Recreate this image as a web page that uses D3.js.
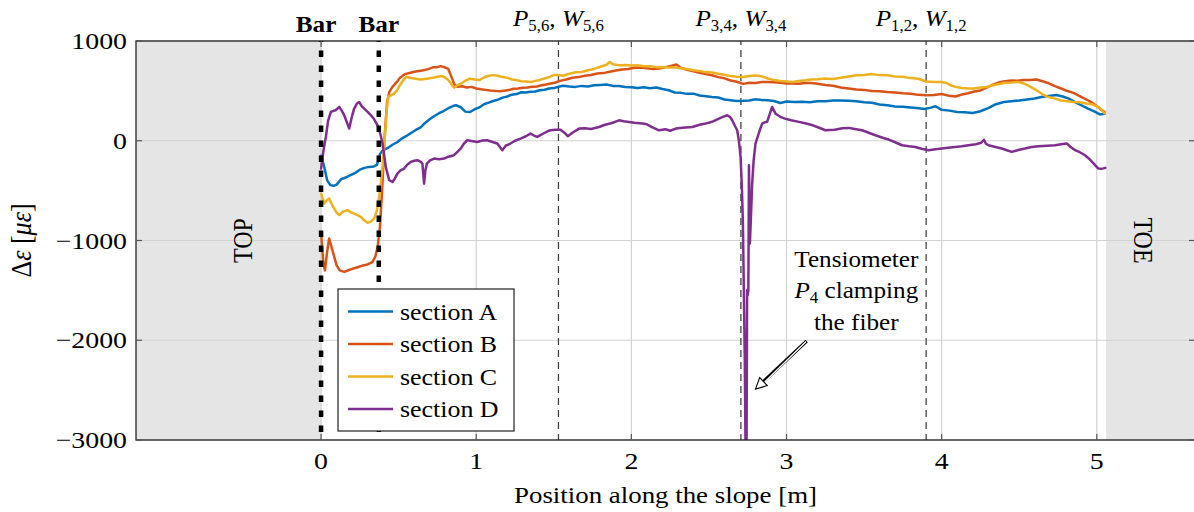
<!DOCTYPE html>
<html><head><meta charset="utf-8">
<script src="https://cdn.jsdelivr.net/npm/d3@7"></script>
<style>
body{margin:0;background:#fff;}
svg{display:block;font-family:"Liberation Serif","Times New Roman",serif;}
</style>
</head><body>
<svg id="chart" width="1194" height="512"></svg>
<script>
// ---------------- data ----------------
const xTicks = [0, 1, 2, 3, 4, 5];
const yTicks = [-3000, -2000, -1000, 0, 1000];
const xDomain = [-1.193, 5.633];
const yDomain = [-3000, 1000];
const topZone = [-1.193, 0];
const toeZone = [5.06, 5.633];
const barPositions = [0, 0.372];
const sensorPositions = [1.53, 2.706, 3.90];
const sensorSubs = ["5,6", "3,4", "1,2"];
const seriesNames = ["section A", "section B", "section C", "section D"];
const seriesColors = ["#0072BD", "#D95319", "#EDB120", "#7E2F8E"];

const sectionA = [[0,-150],[0.02,-260],[0.04,-400],[0.06,-445],[0.08,-452],[0.10,-440],[0.13,-385],[0.16,-368],[0.19,-345],[0.22,-322],[0.25,-290],[0.28,-272],[0.31,-262],[0.34,-258],[0.36,-242],[0.38,-130],[0.40,-95],[0.43,-72],[0.46,-40],[0.49,-15],[0.52,22],[0.55,48],[0.58,78],[0.61,108],[0.64,132],[0.67,178],[0.70,216],[0.73,248],[0.76,276],[0.79,298],[0.82,326],[0.85,348],[0.87,356],[0.90,336],[0.93,292],[0.96,288],[0.99,316],[1.02,334],[1.05,366],[1.08,382],[1.11,398],[1.14,412],[1.17,432],[1.20,444],[1.23,462],[1.26,468],[1.29,486],[1.32,484],[1.35,492],[1.38,494],[1.41,506],[1.44,512],[1.47,524],[1.50,528],[1.53,542],[1.56,552],[1.60,544],[1.64,540],[1.68,550],[1.72,543],[1.76,556],[1.80,560],[1.84,564],[1.88,550],[1.92,548],[1.96,538],[2.00,536],[2.04,528],[2.08,536],[2.12,526],[2.16,534],[2.20,518],[2.24,506],[2.28,484],[2.32,480],[2.36,470],[2.40,472],[2.44,454],[2.48,446],[2.52,438],[2.56,434],[2.60,414],[2.64,406],[2.68,398],[2.72,400],[2.76,404],[2.80,416],[2.84,408],[2.88,406],[2.92,398],[2.96,378],[3.00,394],[3.05,388],[3.10,390],[3.15,386],[3.20,396],[3.25,396],[3.30,404],[3.35,404],[3.40,402],[3.45,396],[3.50,386],[3.55,380],[3.60,364],[3.65,356],[3.70,344],[3.75,342],[3.80,334],[3.85,326],[3.89,318],[3.93,332],[3.96,346],[4.00,310],[4.05,302],[4.10,288],[4.15,286],[4.20,278],[4.25,296],[4.30,328],[4.35,366],[4.40,388],[4.45,396],[4.50,404],[4.55,414],[4.60,424],[4.65,442],[4.70,450],[4.74,458],[4.78,444],[4.82,422],[4.86,388],[4.90,356],[4.94,324],[4.98,296],[5.02,264],[5.05,270]];

const sectionB = [[0,-930],[0.015,-1230],[0.025,-1300],[0.04,-1100],[0.052,-980],[0.07,-1080],[0.085,-1164],[0.10,-1250],[0.12,-1300],[0.15,-1315],[0.18,-1296],[0.21,-1280],[0.24,-1266],[0.27,-1250],[0.30,-1240],[0.33,-1216],[0.35,-1160],[0.365,-1060],[0.38,-850],[0.395,-450],[0.41,50],[0.425,380],[0.44,490],[0.46,540],[0.49,592],[0.51,634],[0.54,666],[0.57,680],[0.60,692],[0.63,700],[0.66,706],[0.69,718],[0.72,736],[0.75,738],[0.77,748],[0.80,734],[0.82,720],[0.84,640],[0.86,560],[0.88,540],[0.91,546],[0.94,534],[0.97,540],[1.00,524],[1.03,516],[1.06,510],[1.09,504],[1.12,500],[1.15,496],[1.18,502],[1.21,508],[1.24,522],[1.27,524],[1.30,532],[1.33,534],[1.36,542],[1.39,544],[1.42,556],[1.45,564],[1.48,574],[1.51,584],[1.54,600],[1.58,614],[1.62,632],[1.66,638],[1.70,652],[1.74,660],[1.78,674],[1.82,678],[1.86,692],[1.90,704],[1.94,714],[1.98,720],[2.02,732],[2.06,734],[2.10,726],[2.14,718],[2.18,724],[2.22,738],[2.26,752],[2.29,764],[2.32,730],[2.36,712],[2.40,696],[2.44,682],[2.48,668],[2.52,656],[2.56,638],[2.60,626],[2.64,604],[2.68,592],[2.72,570],[2.76,582],[2.80,580],[2.84,588],[2.88,590],[2.92,586],[2.96,582],[3.00,574],[3.04,574],[3.08,572],[3.12,580],[3.16,578],[3.20,572],[3.25,558],[3.30,552],[3.35,534],[3.40,524],[3.45,514],[3.50,510],[3.55,498],[3.60,496],[3.65,488],[3.70,484],[3.75,476],[3.80,472],[3.85,460],[3.90,456],[3.95,458],[4.00,468],[4.05,450],[4.09,444],[4.13,464],[4.17,476],[4.21,494],[4.25,504],[4.29,532],[4.33,562],[4.37,586],[4.41,596],[4.45,604],[4.49,602],[4.53,610],[4.57,610],[4.61,614],[4.65,596],[4.69,576],[4.73,548],[4.77,524],[4.81,498],[4.85,480],[4.89,448],[4.93,416],[4.97,382],[5.01,336],[5.03,308],[5.05,290]];

const sectionC = [[0,-530],[0.02,-630],[0.035,-600],[0.052,-580],[0.07,-640],[0.085,-680],[0.10,-720],[0.117,-746],[0.14,-710],[0.17,-696],[0.19,-716],[0.213,-730],[0.235,-746],[0.256,-763],[0.28,-800],[0.30,-823],[0.32,-810],[0.342,-780],[0.36,-700],[0.374,-563],[0.385,-420],[0.396,-262],[0.41,20],[0.42,250],[0.432,439],[0.45,455],[0.47,472],[0.49,508],[0.51,562],[0.53,608],[0.55,642],[0.58,628],[0.61,622],[0.64,614],[0.67,620],[0.70,626],[0.73,634],[0.76,644],[0.78,648],[0.80,634],[0.82,608],[0.84,566],[0.857,533],[0.88,556],[0.90,572],[0.93,602],[0.96,622],[0.99,614],[1.02,608],[1.05,634],[1.08,652],[1.11,658],[1.14,652],[1.17,638],[1.20,632],[1.23,614],[1.26,608],[1.29,596],[1.32,594],[1.35,588],[1.38,600],[1.41,610],[1.44,624],[1.47,638],[1.50,658],[1.53,660],[1.56,652],[1.60,672],[1.64,686],[1.68,690],[1.72,706],[1.76,720],[1.80,742],[1.84,762],[1.86,790],[1.88,768],[1.92,758],[1.96,760],[2.00,754],[2.04,756],[2.08,746],[2.12,746],[2.16,738],[2.20,740],[2.24,734],[2.28,734],[2.32,726],[2.36,720],[2.40,706],[2.44,700],[2.48,688],[2.52,684],[2.56,672],[2.60,662],[2.64,648],[2.68,642],[2.72,640],[2.76,650],[2.80,654],[2.84,646],[2.88,624],[2.92,608],[2.96,598],[3.00,594],[3.04,588],[3.08,600],[3.12,606],[3.16,614],[3.20,616],[3.25,624],[3.30,618],[3.35,632],[3.40,644],[3.45,656],[3.50,660],[3.55,668],[3.60,658],[3.65,656],[3.70,644],[3.75,642],[3.80,628],[3.85,622],[3.90,594],[3.95,590],[4.00,588],[4.03,580],[4.06,554],[4.09,540],[4.13,528],[4.17,524],[4.21,524],[4.25,534],[4.29,538],[4.33,556],[4.37,568],[4.41,582],[4.45,584],[4.49,590],[4.53,574],[4.57,542],[4.61,508],[4.65,466],[4.69,438],[4.73,422],[4.77,404],[4.81,396],[4.85,388],[4.89,386],[4.93,374],[4.97,366],[5.01,338],[5.03,312],[5.05,275]];

const sectionD = [[0,-280],[0.015,-100],[0.031,40],[0.045,200],[0.063,290],[0.08,300],[0.095,306],[0.117,340],[0.13,310],[0.149,256],[0.165,190],[0.181,122],[0.20,250],[0.213,322],[0.23,370],[0.246,389],[0.26,350],[0.278,322],[0.30,290],[0.321,256],[0.34,220],[0.364,155],[0.38,80],[0.396,-28],[0.417,-262],[0.439,-396],[0.46,-413],[0.475,-380],[0.492,-329],[0.51,-300],[0.535,-279],[0.555,-240],[0.578,-212],[0.60,-200],[0.621,-195],[0.645,-215],[0.653,-229],[0.664,-430],[0.672,-300],[0.682,-229],[0.70,-200],[0.728,-179],[0.76,-186],[0.793,-179],[0.82,-160],[0.857,-145],[0.88,-110],[0.90,-78],[0.92,-30],[0.943,5],[0.97,-2],[1.007,-12],[1.04,2],[1.071,5],[1.10,-10],[1.136,-28],[1.168,-95],[1.19,-50],[1.221,-28],[1.25,0],[1.286,22],[1.32,45],[1.35,72],[1.37,55],[1.393,38],[1.43,70],[1.46,95],[1.479,105],[1.51,110],[1.543,111],[1.575,72],[1.59,45],[1.62,80],[1.663,122],[1.70,126],[1.74,118],[1.792,138],[1.83,160],[1.87,175],[1.921,205],[1.95,195],[1.985,189],[2.02,180],[2.071,172],[2.10,165],[2.13,140],[2.178,105],[2.22,115],[2.25,100],[2.286,122],[2.33,130],[2.393,138],[2.44,160],[2.479,172],[2.52,190],[2.564,222],[2.59,240],[2.618,256],[2.635,240],[2.650,205],[2.667,150],[2.682,105],[2.693,0],[2.704,-162],[2.713,-500],[2.719,-830],[2.725,-1500],[2.731,-2200],[2.737,-3300],[2.742,-3300],[2.746,-1500],[2.750,-1550],[2.754,-1500],[2.758,-245],[2.764,-1030],[2.770,-800],[2.778,-450],[2.788,-200],[2.800,-28],[2.822,80],[2.843,172],[2.860,185],[2.875,190],[2.890,260],[2.907,339],[2.93,270],[2.96,240],[2.99,222],[3.03,205],[3.08,189],[3.12,175],[3.17,155],[3.21,130],[3.25,105],[3.31,111],[3.36,125],[3.401,129],[3.44,118],[3.487,105],[3.53,80],[3.573,55],[3.62,30],[3.658,12],[3.70,-15],[3.744,-45],[3.79,-55],[3.830,-62],[3.87,-80],[3.916,-95],[3.96,-85],[4.001,-78],[4.04,-70],[4.087,-62],[4.13,-55],[4.173,-45],[4.22,-35],[4.255,-20],[4.273,10],[4.285,-30],[4.302,-45],[4.34,-60],[4.387,-78],[4.42,-95],[4.452,-112],[4.50,-90],[4.538,-78],[4.58,-62],[4.624,-55],[4.68,-50],[4.731,-45],[4.77,-35],[4.806,-28],[4.83,-60],[4.860,-95],[4.89,-115],[4.924,-145],[4.95,-180],[4.980,-229],[5.01,-279],[5.03,-282],[5.055,-272]];

const allSeries = [sectionA, sectionB, sectionC, sectionD];

// ---------------- layout ----------------
const M = {left:136, right:1195, top:41, bottom:440};
const svg = d3.select('#chart');
const x = d3.scaleLinear().domain(xDomain).range([M.left, M.right]);
const y = d3.scaleLinear().domain(yDomain).range([M.bottom, M.top]);
const SX = 1.12;
const FONT = 24;

function txt(parent, px, py, opts={}) {
  const t = parent.append('text')
    .attr('transform', `translate(${px},${py}) scale(${opts.sx||SX},1)` + (opts.rot ? ` rotate(${opts.rot})` : ''))
    .attr('text-anchor', opts.anchor || 'middle')
    .attr('font-size', opts.size || FONT)
    .attr('fill', '#000');
  if (opts.weight) t.attr('font-weight', opts.weight);
  if (opts.baseline) t.attr('dominant-baseline', opts.baseline);
  return t;
}

svg.append('defs').append('clipPath').attr('id','plotclip')
  .append('rect').attr('x',M.left).attr('y',M.top).attr('width',M.right-M.left).attr('height',M.bottom-M.top);

// gray zones
[topZone, toeZone].forEach(z => {
  svg.append('rect').attr('x', x(z[0])).attr('y', M.top)
    .attr('width', x(z[1]) - x(z[0])).attr('height', M.bottom - M.top)
    .attr('fill', '#e5e5e5');
});

// grid
const grid = svg.append('g');
xTicks.forEach(t => grid.append('line').attr('x1',x(t)).attr('x2',x(t)).attr('y1',M.top).attr('y2',M.bottom)
  .attr('stroke','#d2d2d2').attr('stroke-width',1.2));
yTicks.forEach(t => grid.append('line').attr('x1',M.left).attr('x2',M.right).attr('y1',y(t)).attr('y2',y(t))
  .attr('stroke','#d2d2d2').attr('stroke-width',1.2));

// sensor dashed lines
sensorPositions.forEach(p => svg.append('line').attr('x1',x(p)).attr('x2',x(p)).attr('y1',M.top).attr('y2',M.bottom)
  .attr('stroke','#444').attr('stroke-width',1.3).attr('stroke-dasharray','7,5').attr('stroke-dashoffset',-9));

// series
const line = d3.line().x(d => x(d[0])).y(d => y(d[1]));
const plotG = svg.append('g').attr('clip-path','url(#plotclip)');
allSeries.forEach((s, i) => {
  plotG.append('path').datum(s).attr('d', line).attr('fill','none')
    .attr('stroke', seriesColors[i]).attr('stroke-width', 2.5)
    .attr('stroke-linejoin','round').attr('stroke-linecap','round');
});

// bar dotted lines
barPositions.forEach(p => svg.append('line').attr('x1',x(p)).attr('x2',x(p)).attr('y1',M.top).attr('y2',M.bottom)
  .attr('stroke','#000').attr('stroke-width',4.5).attr('stroke-dasharray','6.5,8.5').attr('stroke-dashoffset',5.5));

// frame
svg.append('rect').attr('x',M.left).attr('y',M.top).attr('width',M.right-M.left).attr('height',M.bottom-M.top)
  .attr('fill','none').attr('stroke','#222').attr('stroke-width',1.3);

// ticks
const tk = svg.append('g').attr('stroke','#555').attr('stroke-width',1.2);
xTicks.forEach(t => {
  tk.append('line').attr('x1',x(t)).attr('x2',x(t)).attr('y1',M.bottom).attr('y2',M.bottom-6);
  tk.append('line').attr('x1',x(t)).attr('x2',x(t)).attr('y1',M.top).attr('y2',M.top+6);
});
yTicks.forEach(t => {
  tk.append('line').attr('x1',M.left).attr('x2',M.left+6).attr('y1',y(t)).attr('y2',y(t));
  tk.append('line').attr('x1',M.right).attr('x2',M.right-6).attr('y1',y(t)).attr('y2',y(t));
});

// tick labels
xTicks.forEach(t => txt(svg, x(t), 469, {sx:1.16}).text(d3.format('d')(t)));
yTicks.forEach(t => txt(svg, 127, y(t) + 8, {anchor:'end', sx:1.16}).text(t < 0 ? '\u2212' + Math.abs(t) : String(t)));

// axis titles
txt(svg, (M.left + M.right) / 2, 503).text('Position along the slope [m]');
const yl = txt(svg, 31, (M.top + M.bottom) / 2, {rot:-90, sx:1.1});
yl.attr('font-size', 26);
yl.append('tspan').text('\u0394');
yl.append('tspan').attr('font-style','italic').text('\u03b5');
yl.append('tspan').text(' [');
yl.append('tspan').attr('font-style','italic').text('\u03bc\u03b5');
yl.append('tspan').text(']');

// zone labels
txt(svg, x(-0.5), (M.top + M.bottom) / 2, {rot:-90, baseline:'central'}).text('TOP');
txt(svg, x(5.30), (M.top + M.bottom) / 2, {rot:90, baseline:'central'}).text('TOE');

// bar labels
barPositions.forEach(p => txt(svg, x(p) - (p === 0 ? 5 : 0), 32, {weight:'bold', sx:1.05}).text('Bar'));

// sensor labels
sensorPositions.forEach((p, i) => {
  const t = txt(svg, x(p) - (i === 2 ? 5 : 0), 26, {sx:1.05});
  t.append('tspan').attr('font-style','italic').text('P');
  t.append('tspan').attr('font-size',16).attr('dy',5).text(sensorSubs[i]);
  t.append('tspan').attr('dy',-5).text(', ');
  t.append('tspan').attr('font-style','italic').text('W');
  t.append('tspan').attr('font-size',16).attr('dy',5).text(sensorSubs[i]);
});

// annotation
const ax = 3.45;
txt(svg, x(ax), y(-1262), {sx:1.05}).text('Tensiometer');
const a2 = txt(svg, x(ax), y(-1578), {sx:1.05});
a2.append('tspan').attr('font-style','italic').text('P');
a2.append('tspan').attr('font-size',16).attr('dy',5).text('4');
a2.append('tspan').attr('dy',-5).text(' clamping');
txt(svg, x(ax), y(-1897), {sx:1.05}).text('the fiber');

// double arrow
const aStart = [3.13, -2007], aEnd = [2.80, -2490];
const x1 = x(aStart[0]), y1 = y(aStart[1]), x2 = x(aEnd[0]), y2 = y(aEnd[1]);
const ang = Math.atan2(y2 - y1, x2 - x1);
const headL = 11, headW = 5.5;
const bx = x2 - headL * Math.cos(ang), by = y2 - headL * Math.sin(ang);
svg.append('line').attr('x1',x1).attr('y1',y1).attr('x2',bx).attr('y2',by).attr('stroke','#000').attr('stroke-width',3.4);
svg.append('line').attr('x1',x1 + 0.8*Math.cos(ang)).attr('y1',y1 + 0.8*Math.sin(ang)).attr('x2',bx+1).attr('y2',by+1*Math.sin(ang)).attr('stroke','#fff').attr('stroke-width',1.3);
const nx = -Math.sin(ang), ny = Math.cos(ang);
svg.append('path').attr('d', `M${x2},${y2} L${bx + nx*headW},${by + ny*headW} L${bx - nx*headW},${by - ny*headW} Z`)
  .attr('fill','#fff').attr('stroke','#000').attr('stroke-width',1.1).attr('stroke-linejoin','miter');

// legend
const lg = svg.append('g');
lg.append('rect').attr('x',338).attr('y',289).attr('width',176).attr('height',142)
  .attr('fill','#fff').attr('stroke','#222').attr('stroke-width',1.2);
seriesNames.forEach((n, i) => {
  const ly = 311.5 + i * 32.5;
  lg.append('line').attr('x1',348).attr('x2',393).attr('y1',ly).attr('y2',ly)
    .attr('stroke',seriesColors[i]).attr('stroke-width',2.5);
  txt(lg, 400, ly + 8, {anchor:'start', size:24, sx:1.08}).text(n);
});
</script>
</body></html>
